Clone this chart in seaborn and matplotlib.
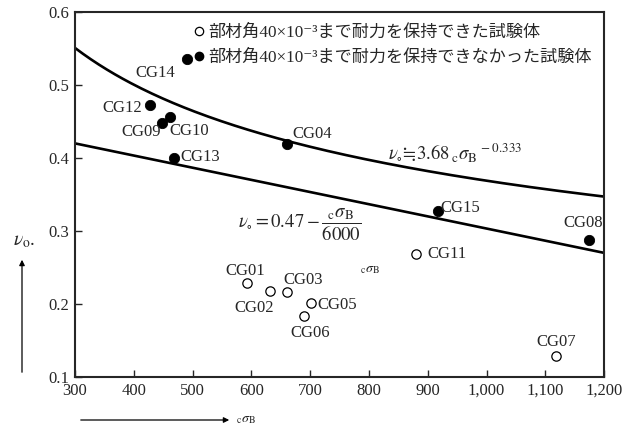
import numpy as np
import pandas as pd
import seaborn as sns
import matplotlib.pyplot as plt
from matplotlib.patches import FancyArrowPatch

# -------------------------
# data
# -------------------------
names_ng = ["CG14", "CG12", "CG09", "CG10", "CG04", "CG13", "CG15", "CG08"]
sigma_ng = [491, 428, 448, 462, 661, 469, 917, 1174]
nu_ng = [0.536, 0.473, 0.448, 0.456, 0.419, 0.400, 0.327, 0.288]

names_ok = ["CG01", "CG02", "CG03", "CG05", "CG06", "CG11", "CG07"]
sigma_ok = [593, 632, 660, 702, 689, 880, 1118]
nu_ok = [0.229, 0.218, 0.216, 0.201, 0.184, 0.268, 0.129]

# fitted curves shown in the chart
a_pow, b_pow = 3.68, -0.333
a_lin, d_lin = 0.47, 6000
sigma_range = np.linspace(300, 1200, 200)

x_ticks = [300, 400, 500, 600, 700, 800, 900, 1000, 1100, 1200]
x_ticklabels = ["300", "400", "500", "600", "700", "800", "900", "1,000", "1,100", "1,200"]
y_ticks = [0.1, 0.2, 0.3, 0.4, 0.5, 0.6]

legend_ok = "部材角40×10⁻³まで耐力を保持できた試験体"
legend_ng = "部材角40×10⁻³まで耐力を保持できなかった試験体"

# label offsets in pixels (dx, dy)
offs = {
    "CG14": (-32, -14), "CG12": (-28, -3), "CG09": (-21, -9), "CG10": (19, -14),
    "CG04": (25, 10), "CG13": (26, 1), "CG15": (22, 3), "CG08": (-6, 17),
    "CG01": (-2, 12), "CG02": (-16, -17), "CG03": (16, 12), "CG05": (26, -2),
    "CG06": (6, -17), "CG11": (31, 0), "CG07": (0, 14),
}

sns.set_style("ticks")
plt.rcParams["font.family"] = ["Liberation Serif", "Noto Sans CJK JP", "DejaVu Sans"]
plt.rcParams["mathtext.fontset"] = "stix"

fig = plt.figure(figsize=(6.3, 4.43), dpi=100)
ax = fig.add_axes([0.119, 0.149, 0.840, 0.824])

curves = pd.DataFrame({
    "sigma": np.concatenate([sigma_range, sigma_range]),
    "nu": np.concatenate([a_pow * sigma_range ** b_pow, a_lin - sigma_range / d_lin]),
    "curve": ["pow"] * len(sigma_range) + ["lin"] * len(sigma_range),
})
sns.lineplot(data=curves, x="sigma", y="nu", units="curve", estimator=None,
             color="black", linewidth=1.9, ax=ax, legend=False)

df_ok = pd.DataFrame({"name": names_ok, "sigma": sigma_ok, "nu": nu_ok})
df_ng = pd.DataFrame({"name": names_ng, "sigma": sigma_ng, "nu": nu_ng})
sns.scatterplot(data=df_ok, x="sigma", y="nu", marker="o", s=45,
                facecolor="white", edgecolor="black", linewidth=0.9, ax=ax, zorder=3)
sns.scatterplot(data=df_ng, x="sigma", y="nu", marker="o", s=55,
                color="black", edgecolor="black", ax=ax, zorder=3)

for df in (df_ok, df_ng):
    for _, r in df.iterrows():
        ax.annotate(r["name"], (r["sigma"], r["nu"]), xytext=offs[r["name"]],
                    textcoords="offset pixels", ha="center", va="center", fontsize=12)

# equations
ax.text(832, 0.408, r"$\nu_{\circ}\!\fallingdotseq\! 3.68\,{}_{\rm c}\sigma_{\rm B}{}^{\,-0.333}$",
        fontsize=13.5, va="center", ha="left")
ax.text(578, 0.308, r"$\nu_{\circ}=0.47-\dfrac{{}_{\rm c}\sigma_{\rm B}}{6000}$",
        fontsize=13.5, va="center", ha="left")
ax.text(801, 0.247, r"${}_{\rm c}\sigma_{\rm B}$", fontsize=10, ha="center", va="center")

# legend
h_ok = plt.Line2D([], [], marker="o", ls="", mfc="white", mec="black", ms=6, mew=0.9)
h_ng = plt.Line2D([], [], marker="o", ls="", mfc="black", mec="black", ms=6)
ax.legend([h_ok, h_ng], [legend_ok, legend_ng], loc="upper right",
          bbox_to_anchor=(1.0, 1.0), frameon=False, fontsize=12.3,
          handletextpad=0.1, handlelength=0.8, borderpad=0.25, labelspacing=0.5)

ax.set_xlim(300, 1200)
ax.set_ylim(0.1, 0.6)
ax.set_xticks(x_ticks)
ax.set_xticklabels(x_ticklabels)
ax.set_yticks(y_ticks)
ax.set_yticklabels([f"{v:.1f}" for v in y_ticks])
ax.tick_params(direction="in", length=5, width=1.0, labelsize=12, pad=4)
for s in ax.spines.values():
    s.set_visible(True)
    s.set_linewidth(1.5)
ax.set_xlabel("")
ax.set_ylabel("")

# axis arrows
fig.patches.append(FancyArrowPatch(
    (22 / 630, 1 - 375 / 443), (22 / 630, 1 - 257 / 443), transform=fig.transFigure,
    arrowstyle="-|>", mutation_scale=8, color="black", linewidth=0.9))
fig.text(24 / 630, 1 - 242 / 443, r"$\nu_{\rm o}$.", fontsize=14, ha="center", va="center")
fig.patches.append(FancyArrowPatch(
    (78 / 630, 1 - 420 / 443), (232 / 630, 1 - 420 / 443), transform=fig.transFigure,
    arrowstyle="-|>", mutation_scale=8, color="black", linewidth=0.9))
fig.text(246 / 630, 1 - 420 / 443, r"${}_{\rm c}\sigma_{\rm B}$", fontsize=10,
         ha="center", va="center")

fig.savefig("out.png", dpi=100)
